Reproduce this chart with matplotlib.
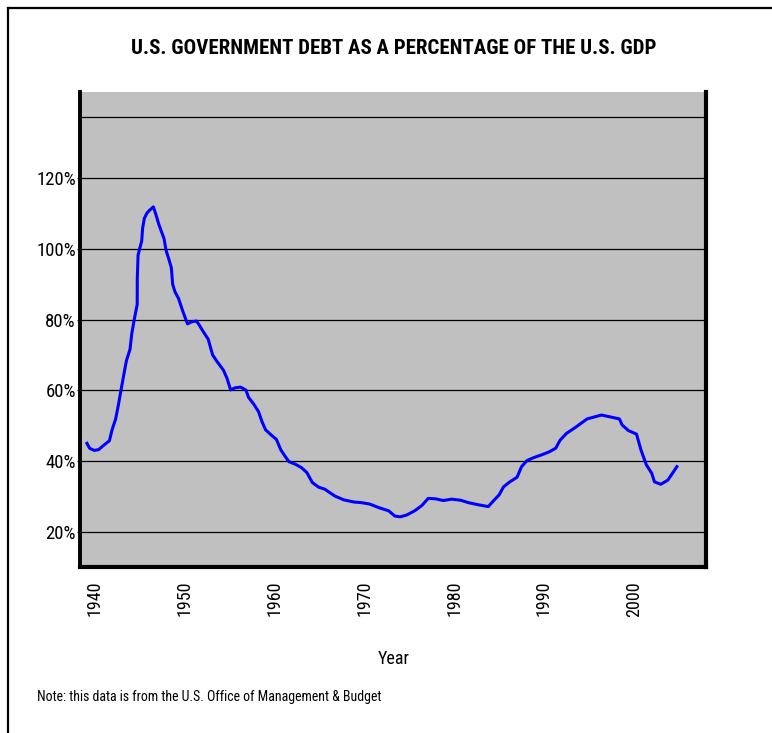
import matplotlib
matplotlib.use("Agg")
import matplotlib.pyplot as plt
from matplotlib.lines import Line2D

# Federal debt as a share of GDP, read as (year, percent) pairs
years = [1939.1, 1939.4, 1939.9, 1940.4, 1940.9, 1941.6, 1941.9, 1942.3, 1942.6, 1942.9,
         1943.2, 1943.5, 1943.9, 1944.1, 1944.4, 1944.7, 1944.71, 1944.8, 1945.0, 1945.2,
         1945.3, 1945.5, 1945.8, 1946.1, 1946.5, 1946.8, 1947.1, 1947.4, 1947.7, 1947.9,
         1948.2, 1948.5, 1948.65, 1948.9, 1949.3, 1949.8, 1950.3, 1950.8, 1951.3, 1951.6,
         1952.1, 1952.6, 1953.1, 1953.6, 1954.3, 1954.7, 1955.1, 1955.6, 1956.2, 1956.8,
         1957.1, 1957.7, 1958.2, 1958.6, 1959.0, 1959.6, 1960.2, 1960.7, 1961.2, 1961.6,
         1962.3, 1963.0, 1963.6, 1964.2, 1964.9, 1965.6, 1966.0, 1966.7, 1967.7, 1968.8,
         1969.7, 1970.6, 1971.6, 1972.7, 1973.4, 1974.0, 1974.7, 1975.6, 1976.4, 1977.1,
         1977.9, 1978.8, 1979.7, 1980.7, 1981.6, 1982.7, 1983.8, 1984.4, 1985.0, 1985.5,
         1986.2, 1987.0, 1987.5, 1988.1, 1988.8, 1989.7, 1990.6, 1991.3, 1991.8, 1992.5,
         1993.5, 1994.8, 1996.4, 1997.5, 1998.4, 1998.7, 1999.4, 2000.3, 2000.8, 2001.4,
         2002.0, 2002.3, 2003.0, 2003.8, 2004.8]
debt_pct = [45.0, 43.6, 43.0, 43.2, 44.3, 45.7, 48.8, 51.9, 55.8, 60.1,
            64.3, 68.4, 71.6, 76.1, 80.4, 84.3, 91.7, 98.3, 100.3, 102.2,
            105.8, 108.7, 110.2, 111.0, 111.9, 109.6, 107.0, 104.9, 102.8, 99.7,
            97.3, 94.7, 90.0, 87.9, 86.0, 82.2, 78.8, 79.4, 79.6, 78.5,
            76.4, 74.5, 70.0, 68.1, 65.7, 63.4, 60.1, 60.7, 60.9, 60.1,
            58.0, 56.0, 54.0, 51.1, 48.8, 47.4, 46.1, 43.1, 41.2, 39.8,
            39.1, 38.1, 36.7, 33.9, 32.6, 32.0, 31.3, 30.1, 29.0, 28.4,
            28.2, 27.8, 26.8, 25.9, 24.4, 24.2, 24.7, 25.9, 27.4, 29.4,
            29.3, 28.8, 29.2, 28.9, 28.2, 27.6, 27.1, 28.8, 30.4, 32.7,
            34.1, 35.4, 38.4, 40.1, 40.9, 41.7, 42.6, 43.6, 45.9, 47.8,
            49.5, 51.9, 53.0, 52.4, 51.9, 50.2, 48.6, 47.6, 43.1, 38.9,
            36.5, 34.1, 33.4, 34.6, 38.4]

x_ticks = [1940, 1950, 1960, 1970, 1980, 1990, 2000]
y_ticks = [20, 40, 60, 80, 100, 120]
y_tick_labels = ["20%", "40%", "60%", "80%", "100%", "120%"]

NARROW = ["Roboto Condensed", "DejaVu Sans"]

W, H = 772, 733
fig = plt.figure(figsize=(W / 100, H / 100), dpi=100)
fig.patch.set_facecolor("white")

# frame lines along the top and left edge of the figure
fig.add_artist(Line2D([8 / W, 8 / W], [0, 1 - 8 / H], color="black", lw=1.6,
                      transform=fig.transFigure))
fig.add_artist(Line2D([8 / W, 1], [1 - 8 / H, 1 - 8 / H], color="black", lw=1.6,
                      transform=fig.transFigure))

left, right, top, bottom = 80, 706, 92, 567
ax = fig.add_axes([left / W, 1 - bottom / H, (right - left) / W, (bottom - top) / H])
ax.set_facecolor("#C0C0C0")

ax.plot(years, debt_pct, color="#0000FF", lw=2.2, solid_joinstyle="round", zorder=3)

ax.set_xlim(1938.33, 2008.04)
ax.set_ylim(10.0, 144.4)

# horizontal gridlines, including the unlabelled top one
for v in y_ticks + [137.3]:
    ax.axhline(v, color="black", lw=0.9, zorder=1)

ax.set_yticks(y_ticks)
ax.set_yticklabels(y_tick_labels, fontfamily=NARROW, fontsize=13.5)
ax.set_xticks(x_ticks)
ax.set_xticklabels([str(x) for x in x_ticks], rotation=90, fontfamily=NARROW,
                   fontsize=13, va="top")
ax.tick_params(axis="x", length=0, pad=10)
ax.tick_params(axis="y", length=2.5, width=0.9, direction="out", pad=0.5)

for side in ("left", "right", "bottom"):
    ax.spines[side].set_color("black")
ax.spines["left"].set_linewidth(2.8)
ax.spines["right"].set_linewidth(3.0)
ax.spines["bottom"].set_linewidth(3.0)
ax.spines["top"].set_visible(False)

fig.text(394 / W, 1 - 48 / H, "U.S. GOVERNMENT DEBT AS A PERCENTAGE OF THE U.S. GDP",
         ha="center", va="center", fontsize=15, fontweight="bold", fontfamily=NARROW)
fig.text(394 / W, 1 - 659 / H, "Year", ha="center", va="center",
         fontsize=13, fontfamily=NARROW)
fig.text(37 / W, 1 - 697 / H, "Note: this data is from the U.S. Office of Management & Budget",
         ha="left", va="center", fontsize=10, fontfamily=NARROW)

fig.savefig("out.png", dpi=100)
